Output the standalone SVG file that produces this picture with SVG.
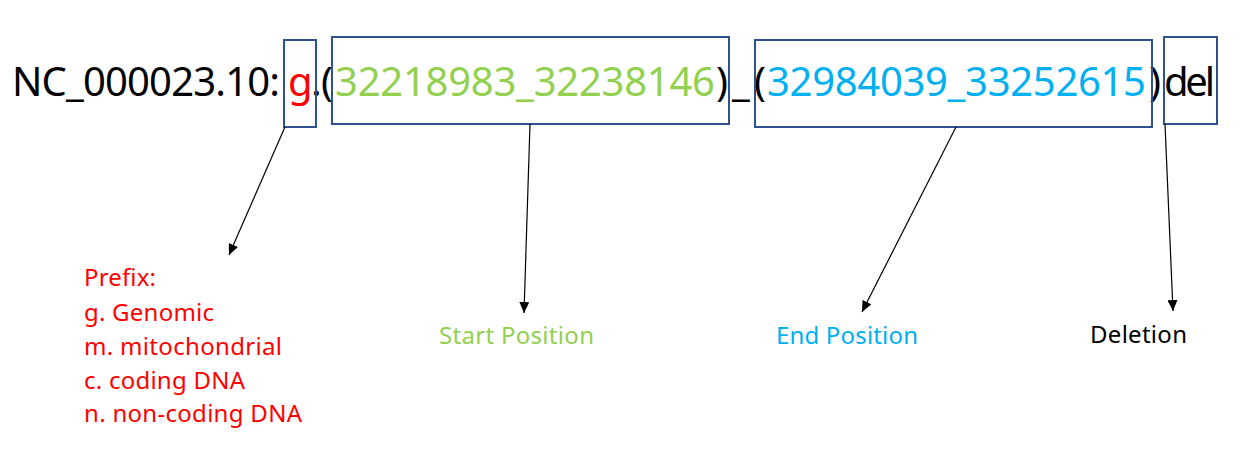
<svg xmlns="http://www.w3.org/2000/svg" width="1258" height="460" viewBox="0 0 1258 460">
<style>
  .main { font-family: "Noto Sans", "Open Sans", "Liberation Sans", sans-serif; font-size: 40px; }
  .lbl { font-family: "Noto Sans", "Open Sans", "Liberation Sans", sans-serif; font-size: 24px; }
  .blk { fill: #000000; }
  .red { fill: #FF0000; }
  .grn { fill: #92D050; }
  .blu { fill: #00B0F0; }
  .box { fill: none; stroke: #2F528F; stroke-width: 2; }
  .conn { stroke: #000000; stroke-width: 1.2; fill: none; marker-end: url(#arr); }
</style>
<defs>
  <marker id="arr" markerUnits="userSpaceOnUse" markerWidth="12" markerHeight="10" refX="11" refY="5" orient="auto">
    <path d="M0,0 L11,5 L0,10 z" fill="#000000"/>
  </marker>
</defs>
<rect width="1258" height="460" fill="#FFFFFF"/>

<g id="hgvs-text">
  <text class="main blk" x="12" y="96" textLength="268">NC_000023.10:</text>
  <text class="main blk" x="311" y="96">.</text>
  <text class="main blk" x="321" y="96">(</text>
  <text class="main blk" x="716" y="96" textLength="50">)_(</text>
  <text class="main blk" x="1149" y="96">)</text>
</g>

<g id="node-prefix">
  <rect class="box" x="284" y="40" width="32" height="87"/>
  <text class="main red" x="288" y="96">g</text>
</g>

<g id="node-start">
  <rect class="box" x="332" y="37" width="397" height="87"/>
  <text class="main grn" x="335" y="96" textLength="380">32218983_32238146</text>
</g>

<g id="node-end">
  <rect class="box" x="755" y="40" width="397" height="87"/>
  <text class="main blu" x="767" y="96" textLength="379">32984039_33252615</text>
</g>

<g id="node-del">
  <rect class="box" x="1164" y="37" width="53" height="87"/>
  <text class="main blk" x="1164" y="96" textLength="51">del</text>
</g>

<g id="connectors">
  <line class="conn" x1="285" y1="127" x2="229" y2="255"/>
  <line class="conn" x1="530" y1="124" x2="524" y2="313"/>
  <line class="conn" x1="956" y1="127" x2="862" y2="312"/>
  <line class="conn" x1="1165" y1="124" x2="1173" y2="311"/>
</g>

<g id="label-prefix">
  <text class="lbl red" x="84" y="286" textLength="72">Prefix:</text>
  <text class="lbl red" x="84" y="321" textLength="130">g. Genomic</text>
  <text class="lbl red" x="84" y="355" textLength="198">m. mitochondrial</text>
  <text class="lbl red" x="84" y="389" textLength="161">c. coding DNA</text>
  <text class="lbl red" x="84" y="422" textLength="218">n. non-coding DNA</text>
</g>

<g id="label-start">
  <text class="lbl grn" x="439" y="344" textLength="155">Start Position</text>
</g>

<g id="label-end">
  <text class="lbl blu" x="776" y="344" textLength="142">End Position</text>
</g>

<g id="label-del">
  <text class="lbl blk" x="1090" y="343" textLength="97">Deletion</text>
</g>
</svg>
